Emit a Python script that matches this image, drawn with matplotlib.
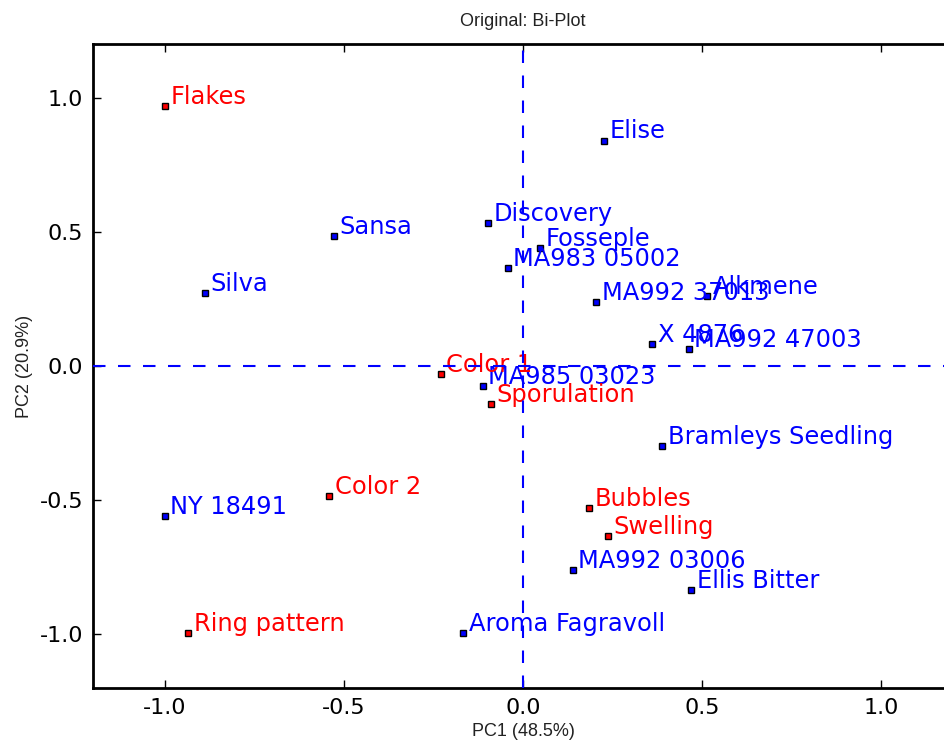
import numpy as np
import matplotlib
matplotlib.use("Agg")
import matplotlib.pyplot as plt

plt.rcParams['axes.unicode_minus'] = False

obsNames = ["Elise", "Discovery", "Sansa", "Fosseple", "MA983 05002", "Silva",
            "MA992 37013", "Alkmene", "X 4876", "MA992 47003", "MA985 03023",
            "Bramleys Seedling", "NY 18491", "MA992 03006", "Ellis Bitter",
            "Aroma Fagravoll"]
obsX = [0.226, -0.098, -0.527, 0.047, -0.042, -0.887, 0.204, 0.513, 0.360,
        0.463, -0.112, 0.388, -1.000, 0.139, 0.469, -0.167]
obsY = [0.840, 0.534, 0.485, 0.440, 0.366, 0.272, 0.239, 0.261, 0.082,
        0.063, -0.075, -0.299, -0.560, -0.761, -0.836, -0.996]

varNames = ["Flakes", "Color 1", "Sporulation", "Color 2", "Bubbles",
            "Swelling", "Ring pattern"]
varX = [-1.000, -0.229, -0.089, -0.541, 0.184, 0.237, -0.934]
varY = [0.970, -0.030, -0.142, -0.485, -0.530, -0.634, -0.996]

fig = plt.figure(figsize=(9.45, 7.44), dpi=100)
ax = fig.add_axes([0.0984, 0.0753, 0.910, 0.8656])

ax.plot(obsX, obsY, 's', color='blue', markersize=5, mec='black', mew=1, zorder=3)
ax.plot(varX, varY, 's', color='red', markersize=5, mec='black', mew=1, zorder=3)

for name, x, y in zip(obsNames, obsX, obsY):
    ax.annotate(name, (x, y), xytext=(4, 1.5), textcoords='offset points',
                color='blue', fontsize=17.4, va='baseline', ha='left')
for name, x, y in zip(varNames, varX, varY):
    ax.annotate(name, (x, y), xytext=(4, 1.5), textcoords='offset points',
                color='red', fontsize=17.4, va='baseline', ha='left')

# dashed origin lines
ax.axhline(0, color='blue', linestyle='--', linewidth=1.5, dashes=(6, 6), zorder=4)
ax.axvline(0, color='blue', linestyle='--', linewidth=1.5, dashes=(6, 6), zorder=4)

ax.set_xlim(-1.2, 1.2)
ax.set_ylim(-1.2, 1.2)
ax.set_xticks([-1.0, -0.5, 0.0, 0.5, 1.0])
ax.set_yticks([-1.0, -0.5, 0.0, 0.5, 1.0])
ax.tick_params(direction='in', length=6, width=1, labelsize=16, pad=7,
               top=True, right=False)

for s in ax.spines.values():
    s.set_linewidth(2)

lbl = dict(family='Liberation Sans', fontsize=13, color='#222222')
ax.set_title("Original: Bi-Plot", pad=13, **lbl)
ax.set_xlabel("PC1 (48.5%)", labelpad=4, **lbl)
ax.set_ylabel("PC2 (20.9%)", labelpad=5, **lbl)

fig.savefig("out.png", dpi=100)
